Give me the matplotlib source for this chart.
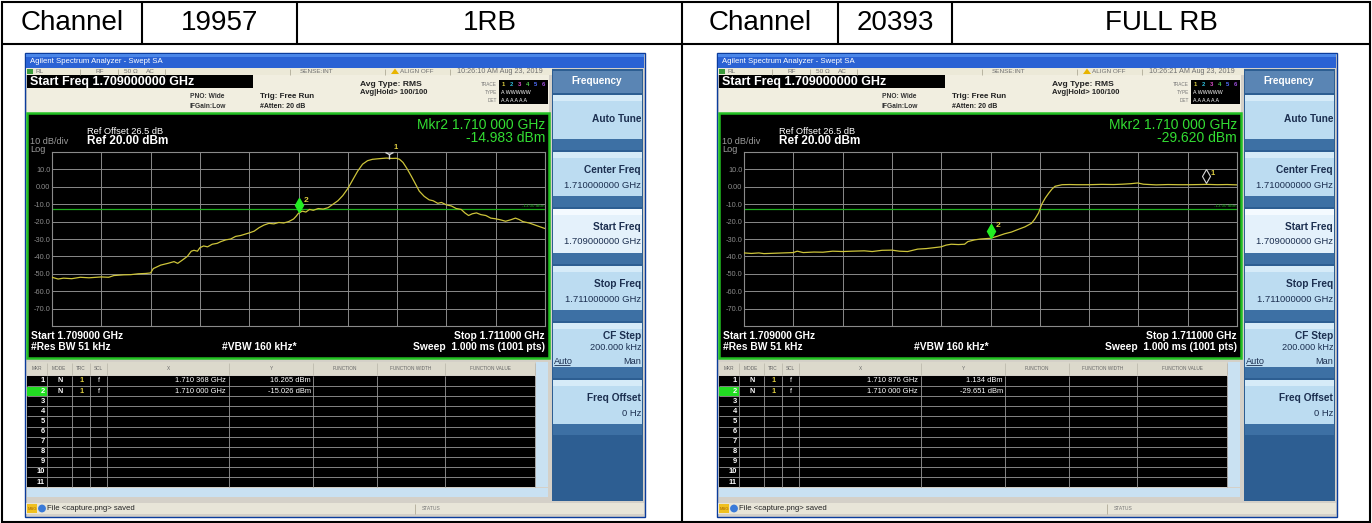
import matplotlib
matplotlib.use("Agg")

import matplotlib.pyplot as plt
from matplotlib.patches import Rectangle, Polygon

W, H = 1372, 523
FONT = "Liberation Sans"

# ── data ────────────────────────────────────────────────────────────────────
HEAD_1RB = ["Channel", "19957", "1RB"]
HEAD_FULL = ["Channel", "20393", "FULL RB"]

# trace: offset from 1.709 GHz in kHz, level in dBm
KHZ_1RB = [0, 25, 47, 80, 115, 150, 200, 230, 251, 290, 319, 350, 380, 400,
           411, 441, 470, 495, 510, 530, 549, 565, 576, 590, 600, 615, 631,
           650, 670, 685, 705, 725, 745, 765, 800, 820, 840, 860, 880, 900,
           920, 940, 960, 980, 990, 1000, 1015, 1030, 1045, 1060, 1080, 1100,
           1120, 1140, 1160, 1180, 1200, 1220, 1240, 1260, 1280, 1300, 1330,
           1356, 1380, 1397, 1410, 1424, 1440, 1458, 1475, 1490, 1510, 1530,
           1546, 1565, 1580, 1600, 1620, 1640, 1660, 1675, 1690, 1705, 1722,
           1740, 1760, 1780, 1800, 1820, 1840, 1860, 1880, 1895, 1910, 1936,
           1960, 1980, 2000]
DBM_1RB = [-52.0, -53.0, -52.5, -52.8, -52.0, -52.3, -51.8, -52.0, -51.0,
           -50.6, -50.5, -50.0, -49.8, -49.5, -47.0, -45.0, -44.0, -43.0,
           -44.0, -42.0, -40.0, -37.0, -36.5, -37.0, -35.0, -34.0, -34.5,
           -33.0, -32.5, -31.5, -30.5, -30.0, -28.5, -28.0, -26.5, -25.5,
           -23.5, -22.0, -21.0, -21.3, -20.5, -20.8, -20.0, -18.5, -17.0,
           -15.2, -14.0, -14.5, -13.0, -13.5, -12.5, -12.8, -12.0, -10.0,
           -8.0, -5.0, -1.0, 4.0, 9.0, 13.0, 15.0, 15.8, 16.2, 16.5, 16.3,
           16.4, 15.8, 14.0, 10.5, 6.0, 1.5, -2.5, -5.5, -7.5, -8.0, -9.5,
           -9.0, -10.4, -11.0, -12.5, -13.0, -15.0, -16.5, -15.5, -15.0,
           -16.0, -16.5, -18.0, -18.4, -19.0, -19.8, -19.0, -18.0, -18.8,
           -20.0, -20.8, -22.0, -23.0, -24.0]

KHZ_FULL = [0, 30, 60, 81, 120, 160, 200, 216, 240, 284, 320, 360, 400, 440,
            488, 520, 560, 600, 630, 664, 705, 740, 770, 800, 820, 841, 870,
            895, 908, 936, 960, 980, 1000, 1030, 1057, 1085, 1112, 1140, 1166,
            1180, 1195, 1208, 1222, 1236, 1250, 1262, 1290, 1320, 1350, 1400,
            1450, 1500, 1535, 1570, 1597, 1620, 1672, 1720, 1760, 1807, 1850,
            1876, 1920, 1960, 2000]
DBM_FULL = [-38.0, -38.3, -38.0, -38.4, -38.2, -38.0, -37.8, -37.0, -37.8,
            -37.5, -37.6, -37.0, -37.2, -37.0, -36.8, -37.2, -36.5, -36.4,
            -37.0, -37.2, -35.8, -35.5, -35.0, -34.5, -33.5, -33.0, -33.2,
            -33.0, -31.5, -30.5, -30.0, -29.8, -29.6, -28.3, -27.0, -26.0,
            -24.5, -23.0, -21.0, -18.5, -15.0, -10.0, -6.5, -3.7, -1.2, 0.3,
            1.2, 1.3, 1.2, 1.2, 1.4, 1.3, 1.5, 1.8, 2.2, 1.5, 1.1, 1.3, 1.2,
            1.2, 1.3, 1.4, 1.2, 1.3, 1.1]

# markers: (frequency GHz, level dBm) for marker 1 and marker 2
MKR_1RB = [(1.710368, 16.265), (1.710000, -15.026)]
MKR_FULL = [(1.710876, 1.134), (1.710000, -29.651)]
READOUT_1RB = "-14.983 dBm"
READOUT_FULL = "-29.620 dBm"
STAMP_1RB = "10:26:10 AM Aug 23, 2019"
STAMP_FULL = "10:26:21 AM Aug 23, 2019"

Y_TICKS = [-80, -70, -60, -50, -40, -30, -20, -10, 0, 10, 20]
Y_TICK_LABELS = ["", "-70.0", "-60.0", "-50.0", "-40.0", "-30.0", "-20.0",
                 "-10.0", "0.00", "10.0", ""]
LIMIT_DBM = -13.0

SOFTKEYS = [("Auto Tune", ""), ("Center Freq", "1.710000000 GHz"),
            ("Start Freq", "1.709000000 GHz"), ("Stop Freq", "1.711000000 GHz"),
            ("CF Step", "200.000 kHz"), ("Freq Offset", "0 Hz")]

# ── canvas ──────────────────────────────────────────────────────────────────
fig = plt.figure(figsize=(W / 100, H / 100), dpi=100)
fig.patch.set_facecolor("white")
cv = fig.add_axes([0, 0, 1, 1])
cv.set_xlim(0, W)
cv.set_ylim(H, 0)
cv.axis("off")


def box(x0, y0, x1, y1, fc, ec="none", lw=0, z=1):
    cv.add_patch(Rectangle((x0, y0), x1 - x0, y1 - y0, facecolor=fc,
                           edgecolor=ec, linewidth=lw, zorder=z))


def txt(x, y, s, size, color="black", ha="left", weight="normal", z=5):
    cv.text(x, y, s, fontsize=size, color=color, ha=ha, va="center",
            fontweight=weight, family=FONT, zorder=z)


def line(xs, ys, color, lw, z=3):
    cv.plot(xs, ys, color=color, lw=lw, solid_capstyle="butt", zorder=z)


def draw_sa(ox, khz, dbm, mkrs, readout, stamp):
    X = lambda x: x + ox

    # window frame and title bar
    box(X(25), 53, X(645), 517, "#d4d0c8", "#0b3c9c", 1.0)
    box(X(26), 54, X(644), 68, "#2a62d4")
    box(X(26), 54, X(644), 57, "#4a86e8")
    txt(X(30), 61.5, "Agilent Spectrum Analyzer - Swept SA", 5.6, "white")

    # status line
    box(X(26), 68, X(552), 75, "#ece9d8")
    box(X(27), 69, X(33), 74, "#3a9a3a")
    for xs in [80, 118, 165, 290, 385, 450]:
        line([X(xs), X(xs)], [68.5, 74.5], "#b0ab98", 0.6)
    for xs, s in [(36, "RL"), (95, "RF"), (124, "50 Ω"), (146, "AC"),
                  (300, "SENSE:INT"), (400, "ALIGN OFF")]:
        txt(X(xs), 71.8, s, 4.6, "#707070")
    txt(X(457), 71.8, stamp, 5.2, "#707070")
    cv.add_patch(Polygon([[X(391), 74], [X(395), 68.5], [X(399), 74]],
                         closed=True, fc="#e8b400", ec="none", zorder=4))

    # settings area
    box(X(27), 75, X(549), 113, "#f1eee0")
    box(X(27), 75, X(253), 88, "black")
    txt(X(30), 81.5, "Start Freq 1.709000000 GHz", 9, "white", weight="bold")
    txt(X(190), 96, "PNO: Wide", 4.8, "#333333", weight="bold")
    txt(X(190), 106, "IFGain:Low", 4.8, "#333333", weight="bold")
    txt(X(260), 97, "Trig: Free Run", 5.8, "#222222", weight="bold")
    txt(X(260), 107, "#Atten: 20 dB", 5.0, "#222222", weight="bold")
    txt(X(360), 85, "Avg Type: RMS", 6.1, "#222222", weight="bold")
    txt(X(360), 93, "Avg|Hold> 100/100", 5.5, "#222222", weight="bold")
    for yy, s in [(84, "TRACE"), (92, "TYPE"), (100, "DET")]:
        txt(X(497), yy, s, 3.4, "#777777", ha="right")
    box(X(499), 80, X(548), 104, "black")
    for i, c in enumerate(["#e0d040", "#30c0e0", "#e050d0", "#50d050", "#5070ff", "#a050e0"]):
        txt(X(502 + 8 * i), 84, str(i + 1), 4.2, c, weight="bold")
    txt(X(501), 92, "A WWWWW", 3.8, "white")
    txt(X(501), 100, "A A A A A A", 3.8, "white")

    # graph panel
    box(X(27), 113, X(549), 358, "black", "#22c022", 1.8)
    txt(X(87), 132, "Ref Offset 26.5 dB", 6.7, "white")
    txt(X(87), 141, "Ref 20.00 dBm", 8.5, "white", weight="bold")
    txt(X(30), 141, "10 dB/div", 6.6, "#9a9a9a")
    txt(X(30), 149, "Log", 6.6, "#9a9a9a")
    txt(X(545), 125, "Mkr2 1.710 000 GHz", 10, "#33dd33", ha="right")
    txt(X(545), 138, readout, 10, "#33dd33", ha="right")
    txt(X(31), 336, "Start 1.709000 GHz", 7.4, "white", weight="bold")
    txt(X(31), 347, "#Res BW 51 kHz", 7.4, "white", weight="bold")
    txt(X(259), 347, "#VBW 160 kHz*", 7.4, "white", ha="center", weight="bold")
    txt(X(545), 336, "Stop 1.711000 GHz", 7.4, "white", ha="right", weight="bold")
    txt(X(545), 347, "Sweep  1.000 ms (1001 pts)", 7.4, "white", ha="right", weight="bold")

    ax = fig.add_axes([X(52) / W, 1 - 326 / H, 493 / W, 174 / H])
    ax.set_facecolor("black")
    freq = [1.709 + k / 1e6 for k in khz]
    ax.plot(freq, dbm, color="#cdc43a", lw=0.9, zorder=3)
    ax.axhline(LIMIT_DBM, color="#1fae1f", lw=0.9, zorder=2)
    ax.text(1.711, LIMIT_DBM + 0.6, "-13.00 dBm", fontsize=3.2, color="#1fae1f",
            ha="right", va="bottom", family=FONT)
    ax.set_xlim(1.709, 1.711)
    ax.set_ylim(-80, 20)
    ax.set_xticks([1.709 + 0.0002 * i for i in range(11)])
    ax.set_xticklabels([])
    ax.set_yticks(Y_TICKS)
    ax.set_yticklabels(Y_TICK_LABELS, family=FONT)
    ax.tick_params(length=0, labelsize=5.3, labelcolor="#8c8c8c", pad=1)
    ax.grid(True, color="#8a8a8a", lw=0.7)
    for sp in ax.spines.values():
        sp.set_color("#8a8a8a")
        sp.set_linewidth(0.8)

    # markers
    (f1, v1), (f2, v2) = mkrs
    if v1 > 10:
        ax.plot(f1, v1 + 2.5, marker="1", ms=7, color="#d8d8d8", mew=1.0, clip_on=False, zorder=4)
    else:
        ax.plot(f1, v1 + 5, marker="d", ms=7, mfc="none", mec="#d8d8d8", mew=0.8, clip_on=False, zorder=4)
    ax.annotate("1", (f1, v1), xytext=(3, 7), textcoords="offset points",
                color="#e0d040", fontsize=5.5, fontweight="bold", family=FONT)
    ax.plot(f2, v2 + 4.5, marker="d", ms=7, color="#22ee22", mec="#22ee22", zorder=4)
    ax.annotate("2", (f2, v2), xytext=(4, 8), textcoords="offset points",
                color="#e0d040", fontsize=6, fontweight="bold", family=FONT)

    # marker table
    box(X(27), 360, X(549), 500, "#d4d0c8")
    box(X(27), 362, X(535), 375, "#dcd9cc")
    cols = [47, 72, 90, 107, 229, 313, 377, 445, 535]
    for cx, s in [(37, "MKR"), (59, "MODE"), (81, "TRC"), (98, "SCL"),
                  (168, "X"), (271, "Y"), (345, "FUNCTION"),
                  (411, "FUNCTION WIDTH"), (490, "FUNCTION VALUE")]:
        txt(X(cx), 368.5, s, 3.4, "#666666", ha="center")
    box(X(27), 376, X(535), 487, "black")
    for i in range(1, 11):
        line([X(27), X(535)], [376 + 10.1 * i] * 2, "#9a9a9a", 0.6, z=4)
    for cx in cols:
        line([X(cx), X(cx)], [376, 487], "#9a9a9a", 0.6, z=4)
        line([X(cx), X(cx)], [363, 375], "#b8b4a8", 0.5, z=4)
    box(X(27), 386.5, X(46.5), 396, "#22dd22", z=3)
    for i in range(11):
        txt(X(45), 381 + 10.1 * i, str(i + 1), 5.4, "white", ha="right", weight="bold")
    for i, (f, v) in enumerate(mkrs):
        yy = 381 + 10.1 * i
        fs = f"{f:.6f}"
        txt(X(58), yy, "N", 5.2, "white", weight="bold")
        txt(X(79), yy, "1", 5.2, "#e0d040", weight="bold")
        txt(X(98), yy, "f", 5.2, "white")
        txt(X(226), yy, f"{fs[:5]} {fs[5:]} GHz", 5.4, "white", ha="right")
        txt(X(311), yy, f"{v:.3f} dBm", 5.4, "white", ha="right")
    box(X(536), 362, X(548), 487, "#c9e1f2")
    box(X(27), 488, X(548), 497, "#c9e1f2")

    # status bar
    box(X(26), 503, X(644), 514, "#e8e5d8")
    box(X(27), 504, X(37), 513, "#f0c020")
    txt(X(28), 508.5, "MSG", 3.0, "#a06000")
    cv.add_patch(plt.Circle((X(42), 508.5), 3.2, color="#3a7ad8", zorder=4))
    txt(X(47), 508.5, "File <capture.png> saved", 5.6, "#222222")
    txt(X(422), 508.5, "STATUS", 3.6, "#777777")
    line([X(415), X(415)], [503.5, 513.5], "#b0ab98", 0.6)

    # soft keys
    box(X(552), 69, X(643), 501, "#2d5e92")
    box(X(553), 71, X(642), 93, "#5a85b4")
    txt(X(597), 81, "Frequency", 7.2, "white", ha="center", weight="bold")
    for i, (lab, val) in enumerate(SOFTKEYS):
        top = 95 + 57 * i
        fc = "#e4f1fb" if lab == "Start Freq" else "#bcdcf1"
        box(X(553), top, X(642), top + 44, fc)
        box(X(553), top, X(642), top + 6, "#d6ebf8" if lab != "Start Freq" else "#f4faff")
        box(X(553), top + 44, X(642), top + 55, "#3d70a4")
        if lab == "CF Step":
            txt(X(641), top + 13, lab, 7.3, "#1c2f50", ha="right", weight="bold")
            txt(X(641), top + 25, val, 6.6, "#1c2f50", ha="right")
            txt(X(641), top + 38, "Man", 6.6, "#1c2f50", ha="right")
            txt(X(554), top + 38, "Auto", 6.6, "#1c2f50")
            line([X(554), X(570)], [top + 42, top + 42], "#1c2f50", 0.6, z=6)
        elif val:
            txt(X(641), top + 18, lab, 7.3, "#1c2f50", ha="right", weight="bold")
            txt(X(641), top + 33, val, 6.8, "#1c2f50", ha="right")
        else:
            txt(X(641), top + 24, lab, 7.3, "#1c2f50", ha="right", weight="bold")


draw_sa(0, KHZ_1RB, DBM_1RB, MKR_1RB, READOUT_1RB, STAMP_1RB)
draw_sa(692, KHZ_FULL, DBM_FULL, MKR_FULL, READOUT_FULL, STAMP_FULL)

# ── outer table ─────────────────────────────────────────────────────────────
cv.add_patch(Rectangle((1.5, 1.5), W - 3.5, H - 3, facecolor="none",
                       edgecolor="black", linewidth=1.5, zorder=10))
line([1.5, W - 2], [44, 44], "black", 1.5, z=10)
line([682, 682], [1.5, H - 1.5], "black", 1.5, z=10)
for xs in [142, 297, 838, 952]:
    line([xs, xs], [1.5, 44], "black", 1.5, z=10)
for (x0, x1), s in zip([(1.5, 142), (142, 297), (297, 682)], HEAD_1RB):
    txt((x0 + x1) / 2, 22.5, s, 20, "black", ha="center", z=11)
for (x0, x1), s in zip([(682, 838), (838, 952), (952, W - 2)], HEAD_FULL):
    txt((x0 + x1) / 2, 22.5, s, 20, "black", ha="center", z=11)

fig.savefig("out.png", dpi=100, facecolor="white")
